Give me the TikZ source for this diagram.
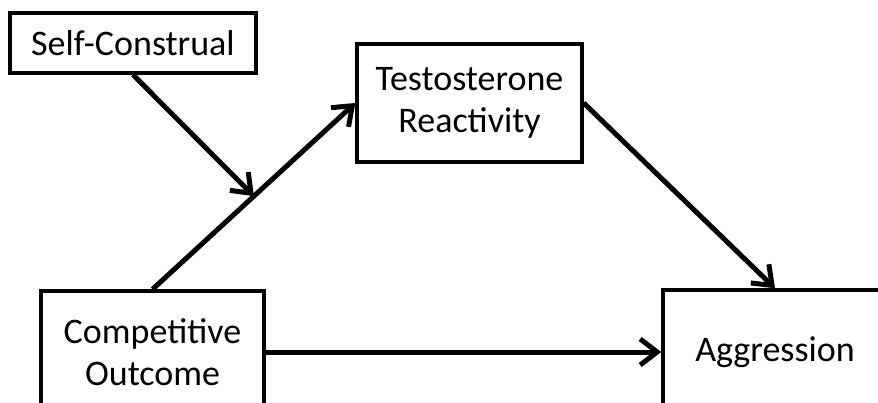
\documentclass[tikz,border=0pt]{standalone}
\usepackage{fontspec}
\setmainfont{Carlito}
\usetikzlibrary{arrows.meta,calc}
\begin{document}
\begin{tikzpicture}[x=1pt,y=-1pt,
  box/.style={draw=black,line width=3.4pt,fill=white,align=center,inner sep=0pt,font=\fontsize{36}{42}\selectfont},
  conn/.style={line width=5pt,-{Straight Barb[length=17pt,width=26pt,line width=5pt]}}]
\clip (0,0) rectangle (878,403);
\useasboundingbox (0,0) rectangle (878,403);
\fill[white] (0,0) rectangle (878,403);
\node[box,minimum width=246pt,minimum height=60pt] (sc) at (133,43) {Self-Construal};
\node[box,minimum width=225pt,minimum height=118pt] (tr) at (469.5,103) {Testosterone\\Reactivity};
\node[box,minimum width=223pt,minimum height=122pt] (co) at (152.5,352) {Competitive\\Outcome};
\node[box,minimum width=224pt,minimum height=124pt] (ag) at (775,352) {Aggression};
\coordinate (m) at ($(co.north)!0.5!(tr.west)$);
\draw[conn] (co.north) -- (tr.west);
\draw[conn] (sc.south) -- (m);
\draw[conn] (tr.east) -- (ag.north);
\draw[conn] (co.east) -- (ag.west);
\end{tikzpicture}
\end{document}
